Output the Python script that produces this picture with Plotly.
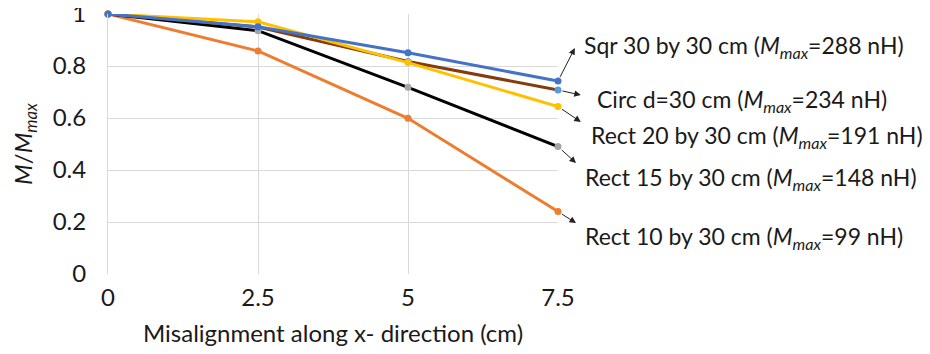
import plotly.graph_objects as go

x_vals = [0, 2.5, 5, 7.5]
x_ticks = [0, 2.5, 5, 7.5]
x_tick_text = ["0", "2.5", "5", "7.5"]
y_ticks = [0, 0.2, 0.4, 0.6, 0.8, 1]
y_tick_text = ["0", "0.2", "0.4", "0.6", "0.8", "1"]

sqr_30x30 = [1.0, 0.951, 0.851, 0.742]
circ_d30 = [1.0, 0.950, 0.817, 0.708]
rect_20x30 = [1.0, 0.970, 0.813, 0.644]
rect_15x30 = [1.0, 0.936, 0.718, 0.490]
rect_10x30 = [1.0, 0.858, 0.599, 0.240]

labels = [
    "Sqr 30 by 30 cm (<i>M</i><sub><i>max</i></sub>=288 nH)",
    "Circ d=30 cm (<i>M</i><sub><i>max</i></sub>=234 nH)",
    "Rect 20 by 30 cm (<i>M</i><sub><i>max</i></sub>=191 nH)",
    "Rect 15 by 30 cm (<i>M</i><sub><i>max</i></sub>=148 nH)",
    "Rect 10 by 30 cm (<i>M</i><sub><i>max</i></sub>=99 nH)",
]
# arrow tips (data coords) and label positions (paper coords)
label_tip_x = [7.78, 7.88, 7.88, 7.8, 7.8]
label_tip_y = [0.869, 0.688, 0.585, 0.427, 0.196]
label_x = [1.053, 1.082, 1.069, 1.056, 1.056]
label_y = [0.874, 0.669, 0.53, 0.368, 0.14]

series = [
    ("Rect 10", rect_10x30, "#ED7D31", "#ED7D31"),
    ("Rect 15", rect_15x30, "#000000", "#A5A5A5"),
    ("Circ", circ_d30, "#843C0C", "#5B9BD5"),
    ("Rect 20", rect_20x30, "#FFC000", "#FFC000"),
    ("Sqr", sqr_30x30, "#4472C4", "#4472C4"),
]
end_vals = [sqr_30x30[-1], circ_d30[-1], rect_20x30[-1], rect_15x30[-1], rect_10x30[-1]]

fig = go.Figure()
for name, ys, lc, mc in series:
    fig.add_trace(go.Scatter(
        x=x_vals, y=ys, mode="lines+markers", name=name,
        line=dict(color=lc, width=3),
        marker=dict(color=mc, size=7),
        cliponaxis=False,
    ))

font_family = "Lato, 'Open Sans', sans-serif"
text_color = "#1a1a1a"

for i, txt in enumerate(labels):
    fig.add_annotation(
        x=label_tip_x[i], y=label_tip_y[i], xref="x", yref="y",
        ax=7.5, ay=end_vals[i], axref="x", ayref="y",
        text="", showarrow=True, arrowhead=2, arrowsize=1.3, arrowwidth=1,
        arrowcolor="#222222", standoff=0, startstandoff=3,
    )
    fig.add_annotation(
        x=label_x[i], y=label_y[i], xref="paper", yref="paper",
        text=txt, showarrow=False, xanchor="left", yanchor="middle",
        font=dict(size=23, color=text_color, family=font_family),
    )

fig.update_layout(
    width=922, height=346,
    margin=dict(l=100, r=372, t=6, b=80),
    paper_bgcolor="white", plot_bgcolor="white",
    showlegend=False,
    font=dict(family=font_family, size=24, color=text_color),
    xaxis=dict(
        range=[0, 7.5], tickvals=x_ticks, ticktext=x_tick_text,
        showgrid=True, gridcolor="#D9D9D9", gridwidth=1,
        zeroline=False, showline=False, automargin=False,
        ticks="outside", ticklen=2, tickcolor="rgba(0,0,0,0)",
        tickfont=dict(size=24), ticklabeloverflow="allow",
        title=dict(text="Misalignment along x- direction (cm)", font=dict(size=24), standoff=15),
    ),
    yaxis=dict(
        range=[0, 1], tickvals=y_ticks, ticktext=y_tick_text,
        showgrid=True, gridcolor="#D9D9D9", gridwidth=1,
        zeroline=False, showline=True, linecolor="#D9D9D9", automargin=False,
        ticks="outside", ticklen=16, tickcolor="rgba(0,0,0,0)",
        tickfont=dict(size=24), ticklabeloverflow="allow",
        title=dict(text="<i>M</i>/<i>M</i><sub><i>max</i></sub>", font=dict(size=24), standoff=13),
    ),
)

fig.write_html("out.html")
